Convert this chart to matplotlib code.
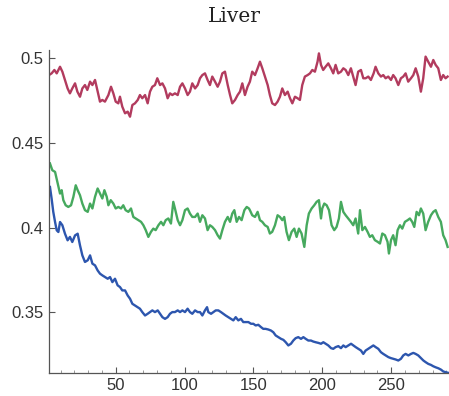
import matplotlib
matplotlib.use("Agg")
import matplotlib.pyplot as plt
from matplotlib.ticker import MultipleLocator, FixedLocator

title = "Liver"
x_ticks = [50, 100, 150, 200, 250]
y_ticks = [0.35, 0.4, 0.45, 0.5]
y_tick_labels = ["0.35", "0.4", "0.45", "0.5"]

red_x = [1.6, 3.5, 5.5, 7.2, 9.6, 11.3, 13.2, 15.1, 16.8, 18.5, 20.5, 22.2, 24.1, 25.8, 27.7, 29.4,
         31.4, 33.1, 35.0, 36.9, 38.6, 40.3, 42.2, 44.7, 46.6, 48.3, 50.0, 51.9, 53.1, 54.8, 56.8,
         58.7, 60.4, 62.1, 64.0, 66.0, 67.6, 69.3, 71.3, 73.2, 74.9, 76.6, 78.5, 80.2, 82.2, 83.9,
         85.8, 87.7, 89.4, 91.1, 93.0, 95.0, 96.7, 98.4, 100.3, 102.2, 103.9, 105.6, 107.6, 109.5,
         111.2, 112.9, 114.8, 116.7, 118.4, 120.1, 122.1, 124.0, 125.7, 127.4, 129.3, 131.3, 133.0,
         134.6, 136.6, 138.5, 140.2, 141.9, 143.8, 145.7, 147.4, 149.1, 151.1, 153.0, 154.7, 156.4,
         158.3, 160.3, 161.9, 163.6, 165.6, 167.5, 169.2, 170.9, 172.8, 174.8, 176.5, 178.2, 180.1,
         182.0, 183.7, 185.4, 187.3, 189.3, 191.0, 192.7, 194.6, 196.5, 197.5, 199.0, 200.6, 202.3,
         204.3, 206.2, 207.9, 209.6, 211.5, 213.5, 215.2, 216.9, 218.8, 220.7, 222.4, 224.1, 226.0,
         228.0, 229.7, 231.4, 233.3, 235.2, 237.2, 238.6, 240.6, 242.5, 244.2, 245.9, 247.8, 249.8,
         251.4, 253.1, 255.1, 257.0, 258.7, 260.4, 262.3, 264.3, 266.0, 267.7, 269.6, 271.5, 273.2,
         274.9, 276.8, 278.8, 280.5, 282.2, 284.1, 286.0, 287.7, 289.4, 290.9]
red_y = [0.4901, 0.4911, 0.4931, 0.4911, 0.4950, 0.4921, 0.4872, 0.4822, 0.4793, 0.4822, 0.4852,
         0.4803, 0.4773, 0.4822, 0.4842, 0.4813, 0.4862, 0.4842, 0.4872, 0.4803, 0.4744, 0.4754,
         0.4744, 0.4783, 0.4832, 0.4793, 0.4744, 0.4734, 0.4773, 0.4714, 0.4675, 0.4685, 0.4655,
         0.4724, 0.4734, 0.4754, 0.4783, 0.4764, 0.4783, 0.4734, 0.4803, 0.4832, 0.4842, 0.4882,
         0.4842, 0.4852, 0.4822, 0.4764, 0.4793, 0.4783, 0.4793, 0.4783, 0.4832, 0.4852, 0.4822,
         0.4783, 0.4803, 0.4852, 0.4822, 0.4842, 0.4882, 0.4901, 0.4911, 0.4872, 0.4842, 0.4892,
         0.4862, 0.4832, 0.4862, 0.4911, 0.4921, 0.4842, 0.4783, 0.4734, 0.4754, 0.4783, 0.4803,
         0.4852, 0.4783, 0.4832, 0.4862, 0.4921, 0.4901, 0.4941, 0.4980, 0.4941, 0.4892, 0.4842,
         0.4783, 0.4734, 0.4724, 0.4744, 0.4773, 0.4822, 0.4783, 0.4803, 0.4764, 0.4734, 0.4773,
         0.4764, 0.4754, 0.4842, 0.4892, 0.4901, 0.4911, 0.4931, 0.4921, 0.4980, 0.5029, 0.4961,
         0.4931, 0.4950, 0.4970, 0.4941, 0.4911, 0.4961, 0.4911, 0.4921, 0.4941, 0.4931, 0.4901,
         0.4941, 0.4892, 0.4842, 0.4921, 0.4931, 0.4882, 0.4882, 0.4892, 0.4872, 0.4911, 0.4950,
         0.4911, 0.4892, 0.4901, 0.4882, 0.4892, 0.4872, 0.4901, 0.4882, 0.4842, 0.4882, 0.4892,
         0.4911, 0.4862, 0.4882, 0.4901, 0.4941, 0.4892, 0.4803, 0.4882, 0.5010, 0.4980, 0.4950,
         0.4990, 0.4961, 0.4941, 0.4872, 0.4901, 0.4882, 0.4892]

green_x = [2.3, 4.0, 6.0, 7.9, 9.6, 10.8, 12.0, 13.7, 15.6, 17.6, 19.3, 21.0, 22.4, 24.1, 25.8, 27.7,
           29.7, 31.4, 33.1, 35.0, 36.9, 38.6, 40.3, 41.8, 43.5, 44.7, 46.4, 48.3, 50.0, 51.9, 53.9,
           55.5, 57.2, 59.2, 61.1, 62.8, 64.5, 66.4, 68.4, 70.1, 71.8, 73.7, 75.6, 77.3, 79.0, 81.0,
           82.9, 84.6, 86.3, 88.2, 90.1, 91.8, 93.0, 95.0, 96.7, 98.4, 100.3, 102.2, 103.9, 105.6,
           107.6, 109.5, 111.2, 112.9, 114.8, 116.7, 118.4, 120.1, 122.1, 124.0, 125.7, 127.4, 129.3,
           131.3, 133.0, 134.6, 136.1, 137.8, 139.5, 141.4, 143.4, 145.1, 146.7, 147.4, 149.1, 151.1,
           153.0, 154.7, 156.4, 158.3, 160.3, 161.9, 163.6, 165.6, 167.5, 169.2, 170.9, 172.3, 174.0,
           175.7, 177.7, 179.6, 181.3, 183.0, 184.9, 186.9, 188.6, 190.2, 192.2, 194.1, 195.8, 197.5,
           199.0, 199.9, 201.4, 203.1, 204.8, 206.7, 208.6, 210.3, 212.0, 213.5, 215.2, 216.9, 218.8,
           220.7, 222.4, 224.1, 226.0, 227.3, 229.0, 230.9, 232.8, 234.5, 236.2, 238.1, 240.1, 241.8,
           243.5, 245.4, 247.3, 248.3, 249.8, 251.4, 253.1, 254.6, 256.3, 258.0, 259.9, 261.9, 263.5,
           265.2, 266.7, 268.4, 270.1, 271.5, 273.2, 274.9, 276.8, 278.8, 280.5, 282.2, 284.1, 286.0,
           287.7, 289.4, 290.9]
green_y = [0.4379, 0.4339, 0.4329, 0.4260, 0.4201, 0.4221, 0.4162, 0.4132, 0.4122, 0.4132, 0.4182,
           0.4250, 0.4221, 0.4191, 0.4142, 0.4103, 0.4093, 0.4142, 0.4113, 0.4182, 0.4231, 0.4201,
           0.4172, 0.4221, 0.4182, 0.4132, 0.4162, 0.4142, 0.4113, 0.4122, 0.4113, 0.4132, 0.4103,
           0.4093, 0.4113, 0.4063, 0.4054, 0.4044, 0.4034, 0.4014, 0.3985, 0.3945, 0.3975, 0.3994,
           0.3985, 0.4014, 0.4034, 0.4014, 0.4044, 0.4054, 0.4024, 0.4152, 0.4113, 0.4044, 0.4014,
           0.4044, 0.4103, 0.4113, 0.4083, 0.4063, 0.4063, 0.4083, 0.4034, 0.4073, 0.4054, 0.3985,
           0.4014, 0.4004, 0.3985, 0.3955, 0.3935, 0.3985, 0.4034, 0.4063, 0.4034, 0.4083, 0.4103,
           0.4034, 0.4063, 0.4044, 0.4103, 0.4122, 0.4113, 0.4103, 0.4073, 0.4063, 0.4093, 0.4044,
           0.4034, 0.4014, 0.4004, 0.3965, 0.3975, 0.4014, 0.4073, 0.4063, 0.4044, 0.4063, 0.3975,
           0.3926, 0.3975, 0.3994, 0.3945, 0.3994, 0.3965, 0.3886, 0.4014, 0.4083, 0.4113, 0.4132,
           0.4152, 0.4162, 0.4054, 0.4113, 0.4142, 0.4132, 0.4103, 0.4014, 0.3985, 0.4004, 0.4054,
           0.4152, 0.4093, 0.4073, 0.4054, 0.4034, 0.4014, 0.4054, 0.3965, 0.4103, 0.3985, 0.4004,
           0.3975, 0.3945, 0.3955, 0.3926, 0.3916, 0.3906, 0.3965, 0.3955, 0.3916, 0.3847, 0.3926,
           0.3955, 0.3896, 0.3985, 0.4014, 0.3994, 0.4034, 0.4044, 0.4054, 0.4034, 0.4004, 0.4093,
           0.4073, 0.4113, 0.4083, 0.3985, 0.4034, 0.4073, 0.4093, 0.4103, 0.4063, 0.4034, 0.3955,
           0.3926, 0.3886]

blue_x = [2.3, 3.5, 4.7, 6.0, 7.2, 8.4, 9.6, 11.3, 13.2, 15.1, 16.8, 18.5, 20.5, 22.4, 24.1, 25.8,
          27.7, 29.7, 31.4, 33.1, 35.0, 36.9, 38.6, 40.3, 42.2, 44.2, 45.9, 47.6, 49.5, 51.4, 53.1,
          54.8, 56.8, 58.7, 60.4, 62.1, 64.0, 66.0, 67.6, 69.3, 71.3, 73.2, 74.9, 76.6, 78.5, 80.5,
          82.2, 83.9, 85.8, 87.7, 89.4, 91.1, 93.0, 95.0, 96.7, 98.4, 100.3, 102.2, 103.9, 105.6,
          107.6, 109.5, 111.2, 112.9, 114.8, 116.3, 117.2, 119.2, 120.9, 122.6, 124.5, 126.4, 128.1,
          129.8, 131.7, 133.7, 135.4, 137.1, 139.0, 140.9, 142.6, 144.3, 146.3, 148.2, 149.9, 151.6,
          153.5, 155.5, 157.1, 158.8, 160.8, 162.7, 164.4, 166.1, 168.0, 170.0, 171.7, 173.4, 175.3,
          177.2, 178.9, 180.6, 182.5, 184.5, 186.2, 187.9, 189.8, 191.7, 193.4, 195.1, 197.1, 199.0,
          200.7, 202.4, 204.3, 206.3, 207.9, 209.6, 211.6, 213.5, 215.2, 216.9, 218.8, 220.8, 222.5,
          224.2, 226.1, 228.0, 229.7, 231.4, 233.3, 235.3, 237.0, 238.7, 240.6, 242.5, 244.2, 245.9,
          247.9, 249.8, 251.5, 253.2, 255.1, 257.0, 258.7, 260.4, 262.4, 264.3, 266.0, 267.7, 269.6,
          271.6, 273.3, 275.0, 276.9, 278.8, 280.5, 282.2, 284.2, 286.1, 287.8, 289.5, 291.4]
blue_y = [0.4240, 0.4171, 0.4093, 0.4033, 0.3984, 0.3974, 0.4033, 0.4014, 0.3964, 0.3925, 0.3945,
          0.3915, 0.3954, 0.3964, 0.3895, 0.3836, 0.3797, 0.3807, 0.3836, 0.3787, 0.3777, 0.3747,
          0.3728, 0.3718, 0.3708, 0.3698, 0.3708, 0.3678, 0.3698, 0.3659, 0.3649, 0.3629, 0.3629,
          0.3599, 0.3580, 0.3550, 0.3540, 0.3530, 0.3521, 0.3501, 0.3481, 0.3491, 0.3501, 0.3511,
          0.3501, 0.3511, 0.3491, 0.3471, 0.3461, 0.3471, 0.3491, 0.3501, 0.3501, 0.3511, 0.3501,
          0.3511, 0.3501, 0.3521, 0.3501, 0.3491, 0.3511, 0.3501, 0.3501, 0.3481, 0.3511, 0.3530,
          0.3501, 0.3491, 0.3501, 0.3511, 0.3511, 0.3501, 0.3491, 0.3481, 0.3471, 0.3461, 0.3452,
          0.3471, 0.3452, 0.3461, 0.3442, 0.3442, 0.3442, 0.3432, 0.3432, 0.3422, 0.3426, 0.3412,
          0.3402, 0.3402, 0.3398, 0.3392, 0.3382, 0.3363, 0.3353, 0.3343, 0.3337, 0.3323, 0.3304,
          0.3314, 0.3333, 0.3347, 0.3353, 0.3343, 0.3353, 0.3343, 0.3333, 0.3333, 0.3327, 0.3323,
          0.3319, 0.3314, 0.3323, 0.3314, 0.3304, 0.3288, 0.3284, 0.3294, 0.3300, 0.3288, 0.3304,
          0.3294, 0.3304, 0.3314, 0.3304, 0.3294, 0.3284, 0.3274, 0.3254, 0.3274, 0.3284, 0.3294,
          0.3304, 0.3294, 0.3284, 0.3264, 0.3254, 0.3245, 0.3235, 0.3229, 0.3225, 0.3221, 0.3215,
          0.3225, 0.3245, 0.3254, 0.3245, 0.3254, 0.3260, 0.3254, 0.3245, 0.3229, 0.3215, 0.3205,
          0.3195, 0.3189, 0.3181, 0.3175, 0.3169, 0.3161, 0.3150, 0.3146, 0.3142]

W, H = 449, 396
fig = plt.figure(figsize=(W / 100, H / 100), dpi=100)
ax = fig.add_axes([49 / W, 23.3 / H, 400 / W, 322.7 / H])

ax.plot(red_x, red_y, color="#B23B5E", lw=1.7, solid_joinstyle="round")
ax.plot(green_x, green_y, color="#46A95E", lw=1.7, solid_joinstyle="round")
ax.plot(blue_x, blue_y, color="#2D56AE", lw=1.7, solid_joinstyle="round")

ax.set_xlim(1.6, 291.9)
ax.set_ylim(0.3143, 0.5049)

for s in ["top", "right"]:
    ax.spines[s].set_visible(False)
for s in ["left", "bottom"]:
    ax.spines[s].set_color("#555555")
    ax.spines[s].set_linewidth(0.9)

ax.xaxis.set_major_locator(FixedLocator(x_ticks))
ax.yaxis.set_major_locator(FixedLocator(y_ticks))
ax.set_yticklabels(y_tick_labels)
ax.xaxis.set_minor_locator(MultipleLocator(10))
ax.tick_params(which="major", direction="in", length=4, width=0.8, color="#555555",
               labelsize=12, labelcolor="#333333", pad=4)
ax.tick_params(which="minor", direction="in", length=2, width=0.6, color="#888888")
for lab in ax.get_xticklabels() + ax.get_yticklabels():
    lab.set_family("Liberation Sans")

fig.text(234 / W, 1 - 22.5 / H, title, family="DejaVu Serif", fontsize=14.5, ha="center",
         va="baseline", color="#222222")

fig.savefig("out.png", dpi=100)
